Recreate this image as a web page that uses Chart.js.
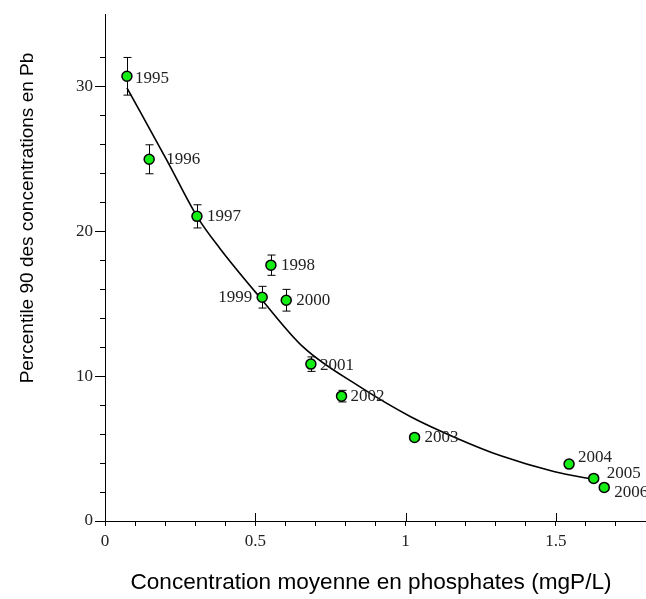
<!DOCTYPE html>
<html>
<head>
<meta charset="utf-8">
<script src="https://cdn.jsdelivr.net/npm/chart.js@4/dist/chart.umd.min.js"></script>
<style>
  html, body { margin: 0; padding: 0; background: #fff; overflow: hidden; }
  canvas { display: block; }
</style>
</head>
<body>
<canvas id="graphique" width="646" height="599"></canvas>
<script>
// données
const annees = ['1995', '1996', '1997', '1998', '1999', '2000', '2001', '2002', '2003', '2004', '2005', '2006'];
const phosphates = [0.073, 0.147, 0.306, 0.552, 0.523, 0.603, 0.685, 0.787, 1.03, 1.544, 1.626, 1.661];
const plomb = [30.7, 24.97, 21.03, 17.66, 15.45, 15.24, 10.83, 8.62, 5.77, 3.93, 2.94, 2.32];
const erreurs = [1.3, 1.0, 0.8, 0.7, 0.75, 0.75, 0.5, 0.4, 0.15, 0, 0, 0];

// courbe d'ajustement
const courbeX = [0.073, 0.206, 0.307, 0.383, 0.517, 0.66, 0.85, 1.017, 1.172, 1.317, 1.493, 1.64];
const courbeY = [29.9, 24.9, 21.0, 18.8, 15.4, 12.0, 9.24, 7.2, 5.7, 4.5, 3.42, 2.82];

// décalage des étiquettes par rapport au point (px)
const decalages = {
    '1995': [8, 2], '1996': [17, 0], '1997': [10, 0], '1998': [10, 0],
    '1999': [-10, 0], '2000': [10, 0], '2001': [9, 1], '2002': [9, 0],
    '2003': [10, 0], '2004': [9, -7], '2005': [13, -5], '2006': [10, 5]
};

const serif = '"Liberation Serif", "Times New Roman", serif';
const sans = '"Liberation Sans", Arial, sans-serif';

const estMajeur = (v, pas) => Math.abs(v / pas - Math.round(v / pas)) < 1e-6;

const barresErreur = {
    id: 'barresErreur',
    beforeDatasetsDraw(chart) {
        const ctx = chart.ctx, x = chart.scales.x, y = chart.scales.y;
        ctx.save();
        ctx.strokeStyle = '#000';
        ctx.lineWidth = 1;
        phosphates.forEach((px, i) => {
            if (!erreurs[i]) return;
            const cx = Math.round(x.getPixelForValue(px)) + 0.5;
            const haut = y.getPixelForValue(plomb[i] + erreurs[i]);
            const bas = y.getPixelForValue(plomb[i] - erreurs[i]);
            ctx.beginPath();
            ctx.moveTo(cx, haut); ctx.lineTo(cx, bas);
            ctx.moveTo(cx - 4, haut); ctx.lineTo(cx + 4, haut);
            ctx.moveTo(cx - 4, bas); ctx.lineTo(cx + 4, bas);
            ctx.stroke();
        });
        ctx.restore();
    },
    afterDatasetsDraw(chart) {
        const ctx = chart.ctx, x = chart.scales.x, y = chart.scales.y;
        ctx.save();
        ctx.font = '17px ' + serif;
        ctx.fillStyle = '#222';
        ctx.textBaseline = 'middle';
        annees.forEach((an, i) => {
            const d = decalages[an];
            ctx.textAlign = d[0] < 0 ? 'right' : 'left';
            ctx.fillText(an, x.getPixelForValue(phosphates[i]) + d[0], y.getPixelForValue(plomb[i]) + d[1]);
        });
        ctx.restore();
    },
    afterDraw(chart) {
        const ctx = chart.ctx, x = chart.scales.x, y = chart.scales.y;
        ctx.save();
        // graduations majeures plus longues
        ctx.strokeStyle = '#000';
        ctx.lineWidth = 1;
        ctx.beginPath();
        x.ticks.forEach(t => {
            if (t.value > 0 && estMajeur(t.value, 0.5)) {
                const px = Math.round(x.getPixelForValue(t.value)) + 0.5;
                ctx.moveTo(px, chart.chartArea.bottom - 8);
                ctx.lineTo(px, chart.chartArea.bottom);
            }
        });
        y.ticks.forEach(t => {
            if (estMajeur(t.value, 10)) {
                const py = Math.round(y.getPixelForValue(t.value)) + 0.5;
                ctx.moveTo(chart.chartArea.left - 10, py);
                ctx.lineTo(chart.chartArea.left - 5, py);
            }
        });
        ctx.stroke();
        // titres des axes
        ctx.fillStyle = '#000';
        ctx.textAlign = 'center';
        ctx.textBaseline = 'middle';
        ctx.font = '22.6px ' + sans;
        ctx.fillText('Concentration moyenne en phosphates (mgP/L)', 371, 583);
        ctx.font = '19px ' + sans;
        ctx.translate(28, 218);
        ctx.rotate(-Math.PI / 2);
        ctx.fillText('Percentile 90 des concentrations en Pb', 0, 0);
        ctx.restore();
    }
};

const ctx = document.getElementById('graphique').getContext('2d');
new Chart(ctx, {
    type: 'scatter',
    data: {
        datasets: [
            {
                label: 'Ajustement',
                data: courbeX.map((v, i) => ({ x: v, y: courbeY[i] })),
                showLine: true,
                borderColor: '#000',
                borderWidth: 1.6,
                pointRadius: 0,
                cubicInterpolationMode: 'monotone',
                order: 2
            },
            {
                label: 'Pb',
                data: phosphates.map((v, i) => ({ x: v, y: plomb[i] })),
                backgroundColor: '#14ee14',
                borderColor: '#000',
                borderWidth: 1.5,
                pointRadius: 5,
                order: 1
            }
        ]
    },
    options: {
        responsive: false,
        animation: false,
        layout: { autoPadding: false, padding: { top: 14, right: 0, left: 0, bottom: 0 } },
        plugins: {
            legend: { display: false },
            tooltip: { enabled: false }
        },
        scales: {
            x: {
                type: 'linear',
                min: 0,
                max: 1.8,
                afterFit: s => { s.height = 78; s.paddingRight = 0; s.paddingLeft = 0; },
                border: { color: '#000', width: 1 },
                grid: { drawOnChartArea: false, tickLength: 5, tickColor: '#000' },
                ticks: {
                    stepSize: 0.1,
                    autoSkip: false,
                    maxRotation: 0,
                    padding: 5,
                    color: '#222',
                    font: { family: serif, size: 17 },
                    callback: v => estMajeur(v, 0.5) ? String(Math.round(v * 10) / 10) : ''
                }
            },
            y: {
                type: 'linear',
                min: 0,
                max: 35,
                afterFit: s => { s.width = 105; s.paddingTop = 0; s.paddingBottom = 0; },
                afterBuildTicks: s => { s.ticks = s.ticks.filter(t => estMajeur(t.value, 2)); },
                border: { color: '#000', width: 1 },
                grid: { drawOnChartArea: false, tickLength: 5, tickColor: '#000' },
                ticks: {
                    stepSize: 2,
                    autoSkip: false,
                    padding: 7,
                    color: '#222',
                    font: { family: serif, size: 17 },
                    callback: v => estMajeur(v, 10) ? String(v) : ''
                }
            }
        }
    },
    plugins: [barresErreur]
});
</script>
</body>
</html>
